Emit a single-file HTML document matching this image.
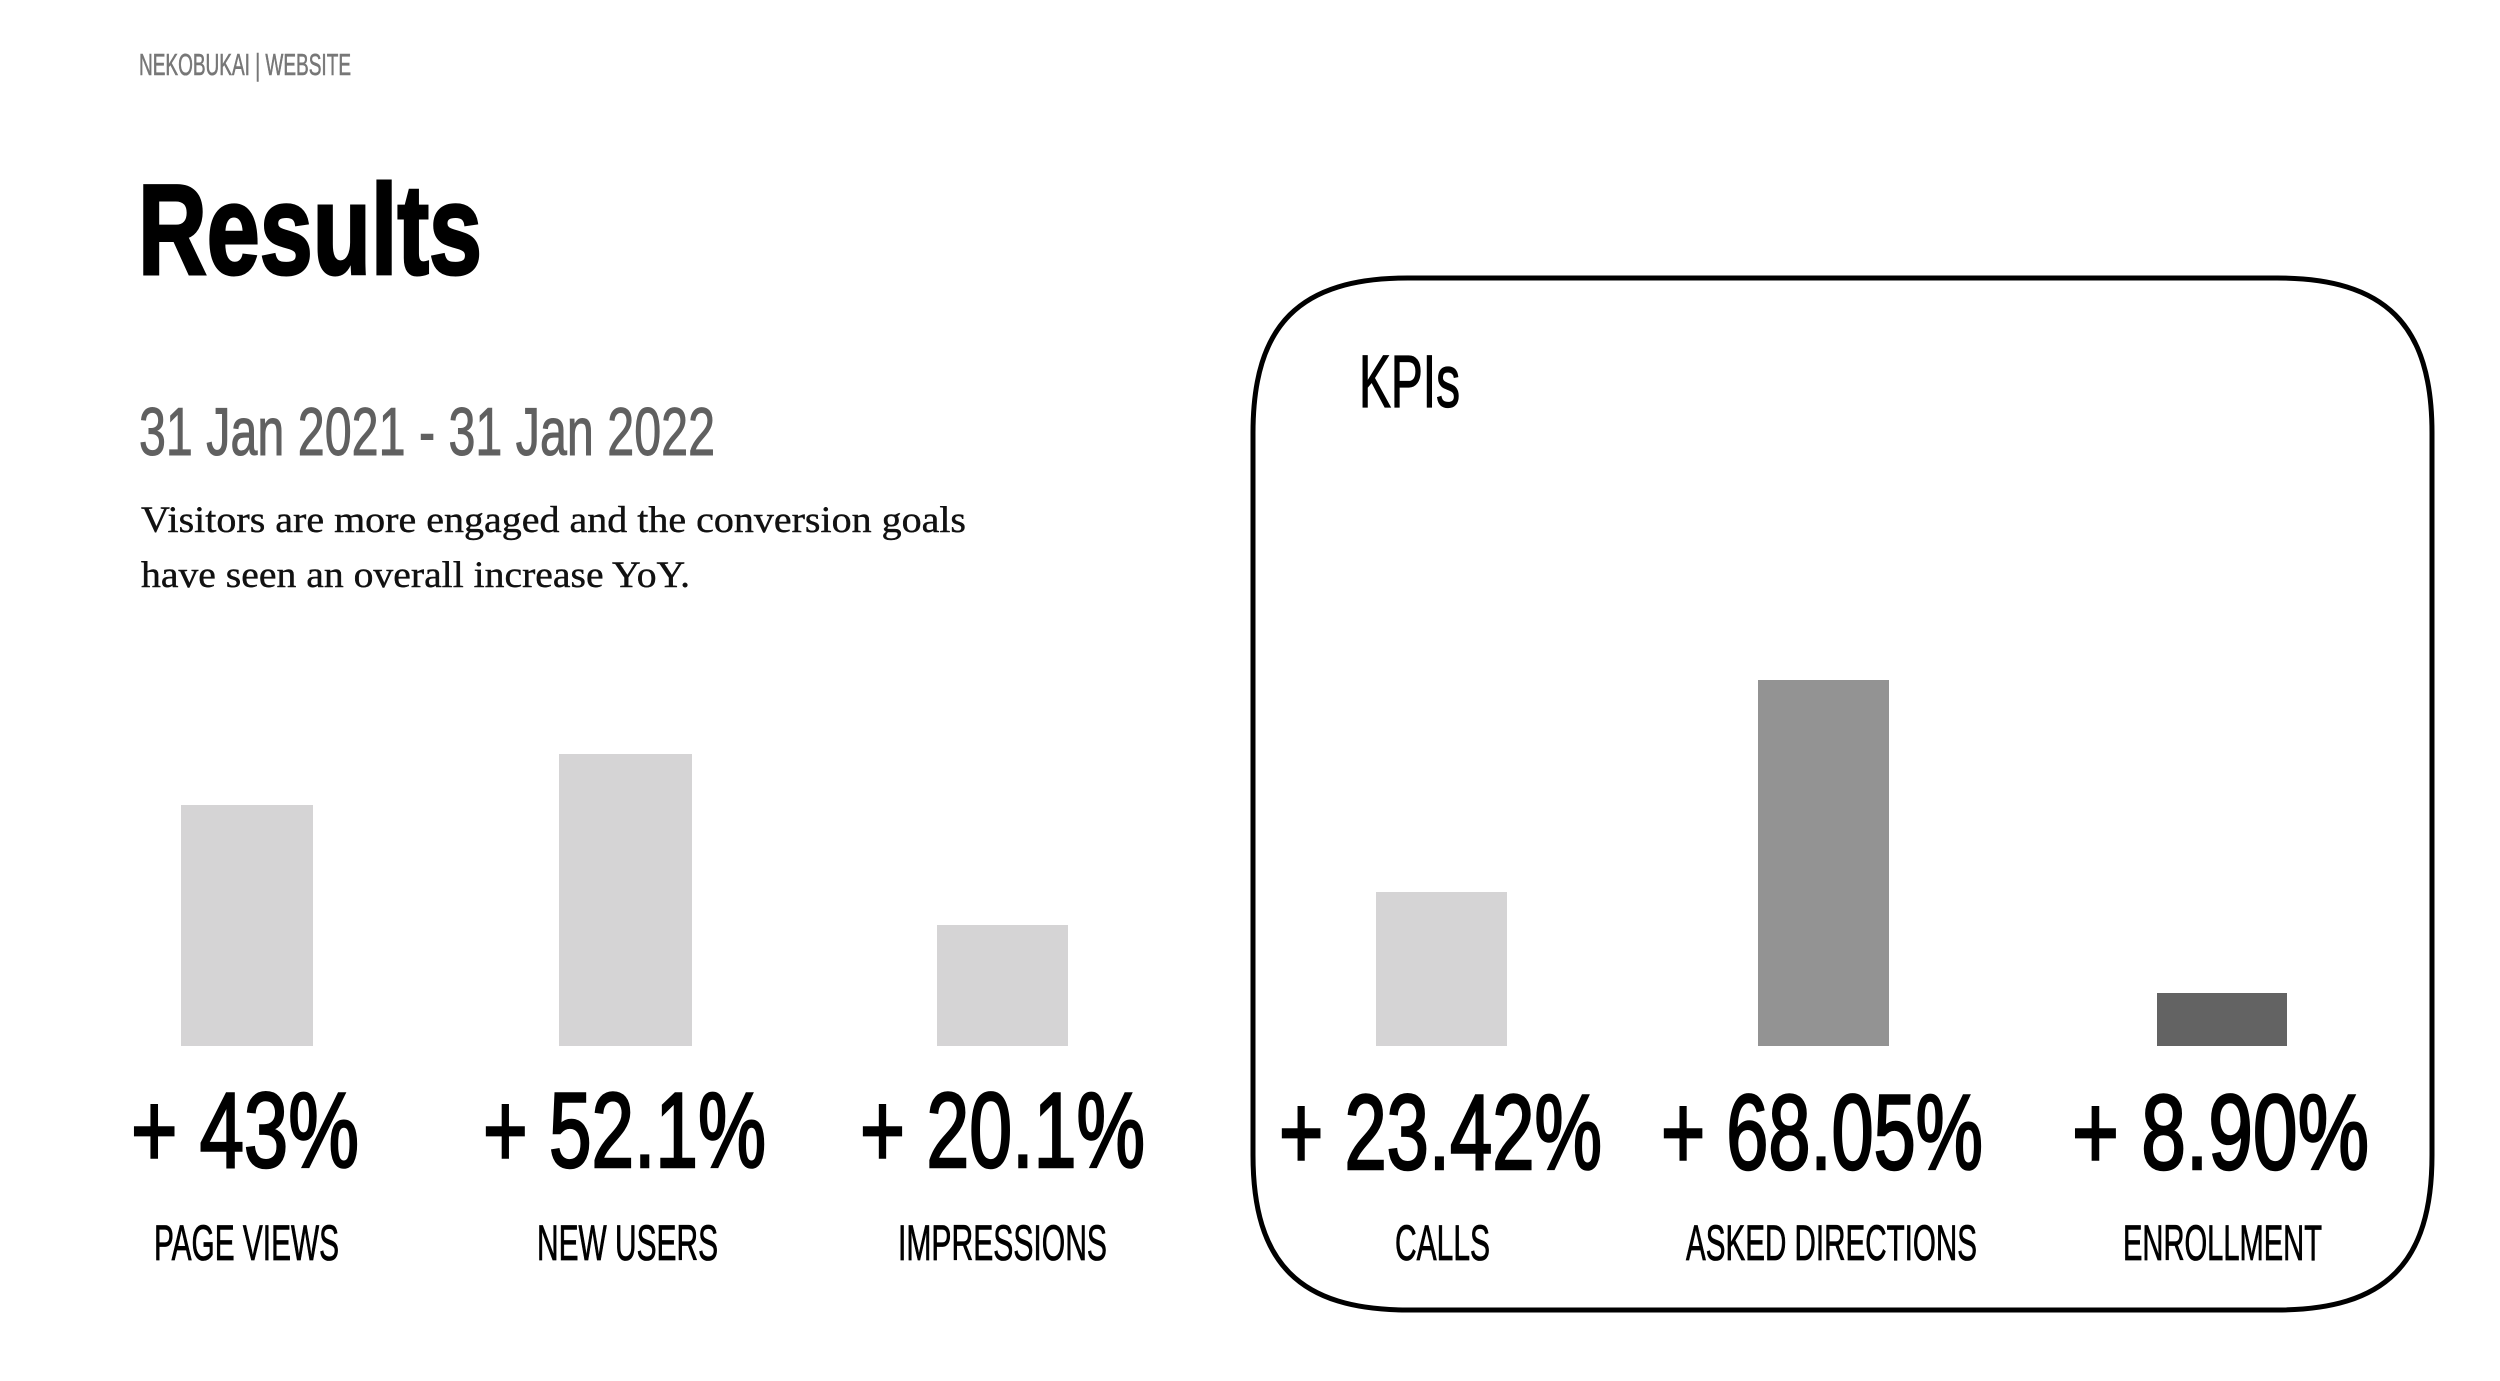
<!DOCTYPE html>
<html>
<head>
<meta charset="utf-8">
<style>
html,body{margin:0;padding:0;background:#fff;}
svg{display:block;}
.sans{font-family:"Liberation Sans Narrow","Liberation Sans",sans-serif;}
.serif{font-family:"Liberation Serif",serif;}
</style>
</head>
<body>
<svg width="2500" height="1381" viewBox="0 0 2500 1381" xmlns="http://www.w3.org/2000/svg">
<rect width="2500" height="1381" fill="#fff"/>

<text class="sans" x="139" y="75" font-size="31" fill="#777" stroke="#777" stroke-width="0.6" textLength="212" lengthAdjust="spacingAndGlyphs">NEKOBUKAI | WEBSITE</text>

<text class="sans" x="138" y="274" font-size="128" font-weight="bold" fill="#000" stroke="#000" stroke-width="3" textLength="344" lengthAdjust="spacingAndGlyphs">Results</text>

<text class="sans" x="139" y="455" font-size="68" fill="#606060" stroke="#606060" stroke-width="1" textLength="576" lengthAdjust="spacingAndGlyphs">31 Jan 2021 - 31 Jan 2022</text>

<text class="serif" x="141" y="532" font-size="37" fill="#111" stroke="#111" stroke-width="0.4" textLength="825" lengthAdjust="spacingAndGlyphs">Visitors are more engaged and the conversion goals</text>
<text class="serif" x="141" y="587" font-size="37" fill="#111" stroke="#111" stroke-width="0.4" textLength="549" lengthAdjust="spacingAndGlyphs">have seen an overall increase YoY.</text>

<!-- left bars -->
<rect x="181" y="805" width="132" height="241" fill="#d5d4d5"/>
<rect x="559" y="754" width="133" height="292" fill="#d5d4d5"/>
<rect x="937" y="925" width="131" height="121" fill="#d5d4d5"/>

<!-- left values -->
<g class="sans" font-size="107" fill="#000" stroke="#000" stroke-width="2.5">
<text x="131" y="1167" textLength="228" lengthAdjust="spacingAndGlyphs">+ 43%</text>
<text x="483" y="1167" textLength="283" lengthAdjust="spacingAndGlyphs">+ 52.1%</text>
<text x="860" y="1167" textLength="285" lengthAdjust="spacingAndGlyphs">+ 20.1%</text>
</g>

<!-- left labels -->
<g class="sans" font-size="50" fill="#000" stroke="#000" stroke-width="0.8">
<text x="154" y="1260" textLength="185" lengthAdjust="spacingAndGlyphs">PAGE VIEWS</text>
<text x="537" y="1260" textLength="181" lengthAdjust="spacingAndGlyphs">NEW USERS</text>
<text x="898" y="1260" textLength="209" lengthAdjust="spacingAndGlyphs">IMPRESSIONS</text>
</g>

<!-- KPI box -->
<path d="M1408 278 L2277 278 C2385.5 278 2432 324.5 2432 433 L2432 1155 C2432 1263.5 2385.5 1310 2277 1310 L1408 1310 C1299.5 1310 1253 1263.5 1253 1155 L1253 433 C1253 324.5 1299.5 278 1408 278 Z" fill="none" stroke="#000" stroke-width="5"/>

<text class="sans" x="1359" y="407" font-size="74" fill="#000" stroke="#000" stroke-width="1.2" textLength="101" lengthAdjust="spacingAndGlyphs">KPIs</text>

<!-- KPI bars -->
<rect x="1376" y="892" width="131" height="154" fill="#d5d4d5"/>
<rect x="1758" y="680" width="131" height="366" fill="#939393"/>
<rect x="2157" y="993" width="130" height="53" fill="#636363"/>

<!-- KPI values -->
<g class="sans" font-size="107" fill="#000" stroke="#000" stroke-width="2.5">
<text x="1279" y="1169" textLength="323" lengthAdjust="spacingAndGlyphs">+ 23.42%</text>
<text x="1661" y="1169" textLength="322" lengthAdjust="spacingAndGlyphs">+ 68.05%</text>
<text x="2072" y="1169" textLength="297" lengthAdjust="spacingAndGlyphs">+ 8.90%</text>
</g>

<!-- KPI labels -->
<g class="sans" font-size="50" fill="#000" stroke="#000" stroke-width="0.8">
<text x="1395" y="1260" textLength="95" lengthAdjust="spacingAndGlyphs">CALLS</text>
<text x="1686" y="1260" textLength="291" lengthAdjust="spacingAndGlyphs">ASKED DIRECTIONS</text>
<text x="2123" y="1260" textLength="199" lengthAdjust="spacingAndGlyphs">ENROLLMENT</text>
</g>
</svg>
</body>
</html>
